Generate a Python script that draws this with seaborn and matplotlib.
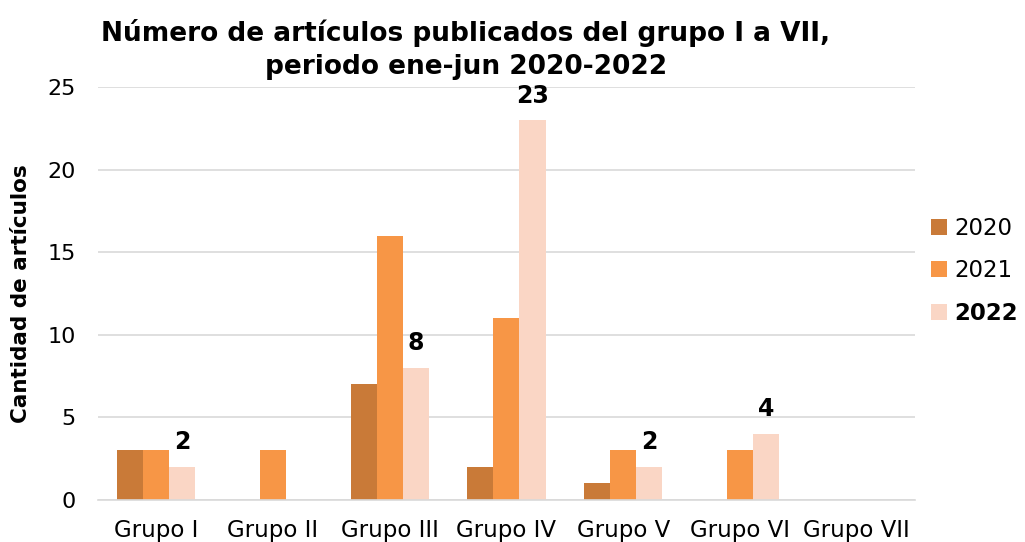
import pandas as pd
import matplotlib
matplotlib.use("Agg")
import matplotlib.pyplot as plt
import seaborn as sns

groups = ["Grupo I", "Grupo II", "Grupo III", "Grupo IV", "Grupo V", "Grupo VI", "Grupo VII"]
years = ["2020", "2021", "2022"]
v2020 = [3, 0, 7, 2, 1, 0, 0]
v2021 = [3, 3, 16, 11, 3, 3, 0]
v2022 = [2, 0, 8, 23, 2, 4, 0]
colors = ["#C97A38", "#F79646", "#FAD6C5"]

df = pd.DataFrame({
    "grupo": groups * 3,
    "anio": [y for y in years for _ in groups],
    "valor": v2020 + v2021 + v2022,
})

sns.set_theme(style="white")
plt.rcParams["font.family"] = ["DejaVu Sans"]

fig = plt.figure(figsize=(10.25, 5.42), dpi=100)
ax = fig.add_axes([0.0956, 0.0775, 0.797, 0.762])

sns.barplot(data=df, x="grupo", y="valor", hue="anio", palette=colors,
            width=0.67, saturation=1, linewidth=0, ax=ax, legend=True)

ax.set_ylim(0, 25)
ax.set_yticks(range(0, 26, 5))
ax.yaxis.grid(True, color="#D9D9D9", linewidth=1.2)
ax.set_axisbelow(True)
for s in ["top", "right", "left"]:
    ax.spines[s].set_visible(False)
ax.spines["bottom"].set_color("#D9D9D9")
ax.spines["bottom"].set_linewidth(1.2)
ax.tick_params(axis="x", length=0, labelsize=16.5, colors="black", pad=14)
ax.tick_params(axis="y", length=0, labelsize=16, colors="black", pad=16)
ax.set_xlabel("")
ax.set_ylabel("Cantidad de artículos", fontsize=15.5, fontweight="bold", labelpad=12, color="black")

# etiquetas solo en la serie 2022
cont = ax.containers[2]
labels = [str(v) if v > 0 else "" for v in v2022]
ax.bar_label(cont, labels=labels, fontsize=17, fontweight="bold", padding=9, color="black")

ax.set_title("Número de artículos publicados del grupo I a VII,\nperiodo ene-jun 2020-2022",
             fontsize=19, fontweight="bold", pad=9, x=0.45, linespacing=1.35, color="black")

leg = ax.legend(loc="center left", bbox_to_anchor=(0.995, 0.555), frameon=False,
                fontsize=16.5, handlelength=0.7, handleheight=0.7, handletextpad=0.3,
                labelspacing=0.85)
for t in leg.get_texts():
    t.set_color("black")
leg.get_texts()[2].set_fontweight("bold")

fig.savefig("out.png", dpi=100)
